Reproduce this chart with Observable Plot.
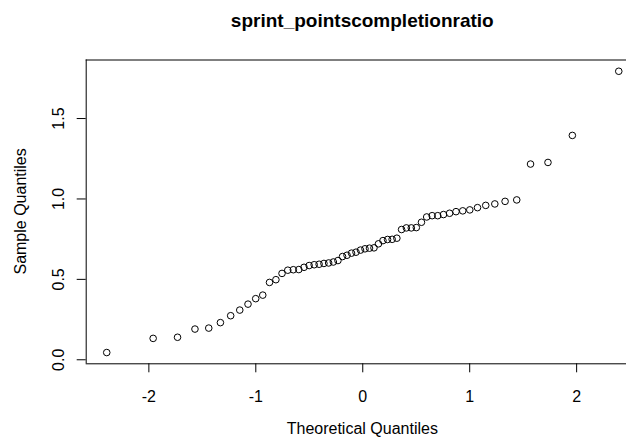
<!DOCTYPE html>
<html>
<head>
<meta charset="utf-8">
<script src="https://cdn.jsdelivr.net/npm/d3@7"></script>
<script src="https://cdn.jsdelivr.net/npm/@observablehq/plot@0.6"></script>
<style>
  html, body { margin: 0; padding: 0; background: white; overflow: hidden; }
  #chart { width: 626px; height: 444px; overflow: hidden; }
</style>
</head>
<body>
<div id="chart"></div>
<script>
const title = "sprint_pointscompletionratio";
const xLabel = "Theoretical Quantiles";
const yLabel = "Sample Quantiles";

const theoretical = [
  -2.394, -1.960, -1.732, -1.569, -1.440, -1.331, -1.235, -1.150, -1.073, -1.001,
  -0.935, -0.872, -0.812, -0.755, -0.701, -0.649, -0.598, -0.549, -0.501, -0.454,
  -0.408, -0.363, -0.319, -0.275, -0.232, -0.189, -0.147, -0.105, -0.063, -0.021,
   0.021,  0.063,  0.105,  0.147,  0.189,  0.232,  0.275,  0.319,  0.363,  0.408,
   0.454,  0.501,  0.549,  0.598,  0.649,  0.701,  0.755,  0.812,  0.872,  0.935,
   1.001,  1.073,  1.150,  1.235,  1.331,  1.440,  1.569,  1.732,  1.960,  2.394
];

// Sample quantiles (sorted sample values)
const sample = [
  0.045, 0.133, 0.140, 0.191, 0.197, 0.231, 0.274, 0.309, 0.346, 0.380,
  0.402, 0.481, 0.498, 0.537, 0.557, 0.560, 0.561, 0.575, 0.586, 0.591,
  0.594, 0.599, 0.602, 0.608, 0.617, 0.642, 0.650, 0.663, 0.669, 0.682,
  0.690, 0.694, 0.696, 0.721, 0.741, 0.748, 0.749, 0.756, 0.810, 0.820,
  0.820, 0.822, 0.855, 0.888, 0.896, 0.896, 0.903, 0.911, 0.921, 0.926,
  0.932, 0.946, 0.960, 0.969, 0.985, 0.994, 1.217, 1.227, 1.395, 1.794
];

const xTicks = [-2, -1, 0, 1, 2];
const yTicks = [0, 0.5, 1, 1.5];
const xTickLabels = ["-2", "-1", "0", "1", "2"];
const yTickLabels = ["0.0", "0.5", "1.0", "1.5"];

const points = theoretical.map((t, i) => ({t, s: sample[i]}));

const xLo = -2.586, xHi = 2.586;
const yLo = -0.025, yHi = 1.864;
const font = "'Liberation Sans', Arial, Helvetica, sans-serif";

const plot = Plot.plot({
  width: 626,
  height: 444,
  marginLeft: 85.7,
  marginRight: 0,
  marginTop: 59.5,
  marginBottom: 80.7,
  style: {fontFamily: font, overflow: "hidden", background: "white", color: "black"},
  x: {domain: [xLo, xHi], range: [85.7, 638.8]},
  y: {domain: [yLo, yHi], range: [363.3, 59.5]},
  marks: [
    // box
    Plot.ruleY([yLo, yHi], {x1: xLo, x2: xHi, stroke: "black", strokeWidth: 1}),
    Plot.ruleX([xLo], {y1: yLo, y2: yHi, stroke: "black", strokeWidth: 1}),
    // ticks
    Plot.axisX({ticks: xTicks, tickSize: 9, tickFormat: () => "", label: null, stroke: "black"}),
    Plot.axisY({ticks: yTicks, tickSize: 9, tickFormat: () => "", label: null, stroke: "black"}),
    // tick labels
    Plot.text(xTicks, {x: d => d, y: yLo, text: (d, i) => xTickLabels[i], dy: 32.7,
      fontSize: 16, fill: "black", lineAnchor: "middle"}),
    Plot.text(yTicks, {x: xLo, y: d => d, text: (d, i) => yTickLabels[i], dx: -27.4,
      rotate: -90, fontSize: 16, fill: "black", lineAnchor: "middle"}),
    // points
    Plot.dot(points, {x: "t", y: "s", r: 3.3, stroke: "black", fill: "none", strokeWidth: 1})
  ]
});

const svg = d3.select(plot);
svg.append("text")
  .attr("x", 362.3).attr("y", 27)
  .attr("text-anchor", "middle")
  .attr("font-family", font).attr("font-size", 19).attr("font-weight", "bold")
  .attr("fill", "black")
  .text(title);
svg.append("text")
  .attr("x", 362.3).attr("y", 434.3)
  .attr("text-anchor", "middle")
  .attr("font-family", font).attr("font-size", 16)
  .attr("fill", "black")
  .text(xLabel);
svg.append("text")
  .attr("transform", "translate(25.8,211.4) rotate(-90)")
  .attr("text-anchor", "middle")
  .attr("font-family", font).attr("font-size", 16)
  .attr("fill", "black")
  .text(yLabel);

document.getElementById("chart").appendChild(plot);
</script>
</body>
</html>
